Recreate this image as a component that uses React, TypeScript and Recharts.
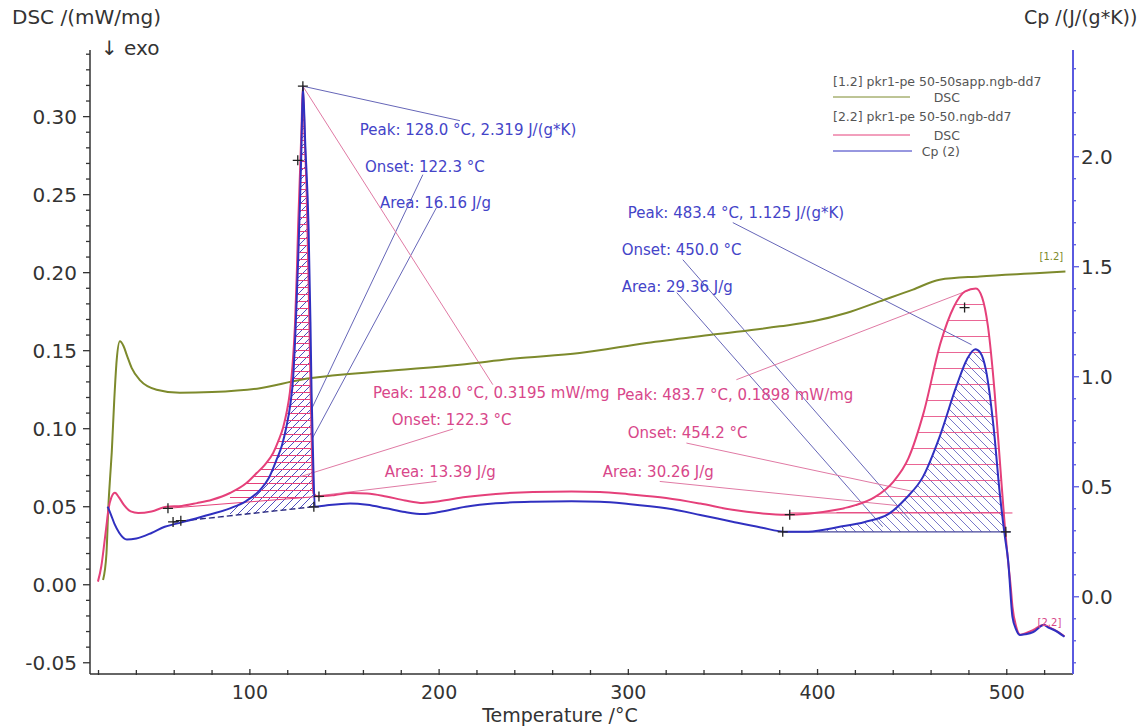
import React from "react";
import {
  ComposedChart,
  Line,
  Area,
  XAxis,
  YAxis,
  ReferenceLine,
  ReferenceDot,
} from "recharts";

const W = 1140;
const H = 727;
const FONT = '"DejaVu Sans", Verdana, sans-serif';

// colours
const OLIVE = "#7d8a2c";
const PINK = "#e5407a";
const BLUE = "#3030c0";
const BLUE_TXT = "#4444c8";
const PINK_TXT = "#d8478a";

// [°C, mW/mg]  -- [1.2] pkr1-pe 50-50sapp.ngb-dd7, DSC
const dsc12: [number, number][] = [
  [22.4, 0.003], [24.2, 0.02], [25.2, 0.05], [26.2, 0.07], [27.0, 0.085],
  [28.3, 0.118], [29.6, 0.144], [31.3, 0.156], [33.2, 0.153], [35.0, 0.147],
  [37.5, 0.139], [42.0, 0.131], [50.7, 0.125], [63.0, 0.123], [80.0, 0.1235],
  [105.3, 0.126], [126.9, 0.1314], [168.7, 0.1367], [211.0, 0.141], [240.0, 0.145],
  [274.3, 0.1485], [309.6, 0.1549], [344.8, 0.1603], [380.0, 0.1656], [397.6, 0.1688],
  [415.2, 0.1741], [432.8, 0.1816], [450.4, 0.1891], [464.5, 0.1955], [485.7, 0.1976],
  [517.4, 0.1998], [531.0, 0.2008],
];

// [°C, mW/mg]  -- [2.2] pkr1-pe 50-50.ngb-dd7, DSC
const dsc22: [number, number][] = [
  [19.7, 0.002], [21.5, 0.012], [23.2, 0.028], [24.4, 0.04], [25.2, 0.048],
  [26.8, 0.056], [28.7, 0.059], [30.8, 0.056], [33.5, 0.051], [37.0, 0.047],
  [41.0, 0.046], [48.0, 0.047], [56.0, 0.05], [64.0, 0.0505], [72.0, 0.0523],
  [80.0, 0.0545], [89.5, 0.0588], [98.0, 0.065], [103.6, 0.0716], [108.0, 0.077],
  [112.3, 0.0844], [115.0, 0.092], [117.6, 0.101], [119.5, 0.111], [121.1, 0.123],
  [122.5, 0.14], [123.8, 0.166], [124.8, 0.2], [125.5, 0.23], [126.5, 0.265],
  [127.3, 0.294], [128.0, 0.3195], [129.0, 0.285], [130.0, 0.251], [131.0, 0.195],
  [131.8, 0.144], [132.6, 0.095], [133.5, 0.0588], [136.0, 0.0566], [145.0, 0.0575],
  [153.0, 0.0588], [162.0, 0.0585], [172.0, 0.0566], [182.0, 0.054], [191.4, 0.0524],
  [200.0, 0.0535], [214.0, 0.0562], [230.0, 0.0582], [249.6, 0.0594], [270.0, 0.0597],
  [285.0, 0.0594], [300.0, 0.058], [320.0, 0.0556], [338.0, 0.052], [355.0, 0.048],
  [370.0, 0.0458], [383.5, 0.0449], [395.0, 0.0455], [410.0, 0.048], [420.0, 0.051],
  [430.0, 0.056], [440.0, 0.066], [448.0, 0.081], [456.0, 0.11], [465.0, 0.155],
  [472.0, 0.178], [478.0, 0.188], [483.7, 0.1898], [487.0, 0.184], [490.0, 0.166],
  [493.6, 0.123], [496.3, 0.08], [499.0, 0.037], [500.6, 0.016], [502.0, 0.0],
  [503.0, -0.014], [505.0, -0.027], [507.0, -0.032], [510.0, -0.031], [514.0, -0.029],
  [519.6, -0.0256], [522.0, -0.027], [525.0, -0.0288], [530.5, -0.033],
];

// [°C, J/(g*K)]  -- Cp (2)
const cp2: [number, number][] = [
  [24.8, 0.41], [26.5, 0.375], [28.5, 0.33], [31.0, 0.29], [35.0, 0.26],
  [40.0, 0.265], [48.0, 0.29], [55.0, 0.318], [63.0, 0.336], [75.0, 0.365],
  [89.5, 0.402], [98.0, 0.435], [105.3, 0.485], [110.0, 0.54], [114.0, 0.621],
  [117.0, 0.69], [119.3, 0.773], [121.3, 0.87], [122.9, 1.0], [124.3, 1.25],
  [125.5, 1.53], [126.5, 1.8], [127.3, 2.06], [128.0, 2.319], [129.3, 2.05],
  [131.0, 1.68], [132.0, 1.25], [132.6, 0.925], [133.5, 0.6], [134.3, 0.409],
  [140.0, 0.415], [153.0, 0.424], [162.0, 0.418], [172.0, 0.402], [182.0, 0.385],
  [191.4, 0.376], [200.0, 0.385], [214.0, 0.409], [230.0, 0.425], [249.6, 0.432],
  [270.0, 0.434], [285.0, 0.432], [300.0, 0.422], [320.0, 0.402], [338.0, 0.372],
  [355.0, 0.341], [370.0, 0.315], [383.5, 0.295], [395.0, 0.296], [411.7, 0.318],
  [425.0, 0.34], [438.0, 0.379], [447.0, 0.45], [455.7, 0.545], [464.5, 0.727],
  [473.3, 0.955], [479.0, 1.08], [483.4, 1.125], [486.0, 1.11], [489.0, 1.03],
  [493.0, 0.773], [496.3, 0.47], [499.0, 0.273], [500.7, 0.167], [503.0, -0.091],
  [505.0, -0.15], [507.0, -0.174], [510.0, -0.17], [514.0, -0.16], [519.6, -0.128],
  [522.0, -0.14], [525.0, -0.151], [530.5, -0.182],
];

// integration baselines [°C, lower bound] read along each peak
const pinkBase1: [number, number][] = [
  [89.5, 0.0521], [98.0, 0.0529], [103.6, 0.0535], [108.0, 0.0539], [112.3, 0.0543],
  [115.0, 0.0546], [117.6, 0.0548], [119.5, 0.055], [121.1, 0.0551], [122.5, 0.0553],
  [123.8, 0.0554], [124.8, 0.0555], [125.5, 0.0556], [126.5, 0.0556], [127.3, 0.0557],
  [128.0, 0.0558], [129.0, 0.0559], [130.0, 0.056], [131.0, 0.0561], [131.8, 0.0562],
  [132.6, 0.0562], [133.5, 0.0563],
];
const cpBase1: [number, number][] = [
  [89.5, 0.368], [98.0, 0.376], [105.3, 0.383], [110.0, 0.387], [114.0, 0.391],
  [117.0, 0.394], [119.3, 0.396], [121.3, 0.398], [122.9, 0.399], [124.3, 0.4],
  [125.5, 0.402], [126.5, 0.402], [127.3, 0.403], [128.0, 0.404], [129.3, 0.405],
  [131.0, 0.407], [132.0, 0.408], [132.6, 0.408], [133.5, 0.409], [134.3, 0.41],
];
const pinkBase2: [number, number][] = [
  [410.0, 0.046], [420.0, 0.046], [430.0, 0.046], [440.0, 0.046], [448.0, 0.046],
  [456.0, 0.046], [465.0, 0.046], [472.0, 0.046], [478.0, 0.046], [483.7, 0.046],
  [487.0, 0.046], [490.0, 0.046], [493.6, 0.046], [496.3, 0.046], [499.0, 0.046],
];
const cpBase2: [number, number][] = [
  [395.0, 0.295], [411.7, 0.295], [425.0, 0.295], [438.0, 0.295], [447.0, 0.295],
  [455.7, 0.295], [464.5, 0.295], [473.3, 0.295], [479.0, 0.295], [483.4, 0.295],
  [486.0, 0.295], [489.0, 0.295], [493.0, 0.295], [496.3, 0.295], [499.0, 0.295],
];

// axis ticks
const xTicks = [20, 40, 60, 80, 100, 120, 140, 160, 180, 200, 220, 240, 260, 280, 300,
  320, 340, 360, 380, 400, 420, 440, 460, 480, 500, 520];
const xMajor = [100, 200, 300, 400, 500];
const leftTicks = [-0.05, -0.04, -0.03, -0.02, -0.01, 0, 0.01, 0.02, 0.03, 0.04, 0.05,
  0.06, 0.07, 0.08, 0.09, 0.1, 0.11, 0.12, 0.13, 0.14, 0.15, 0.16, 0.17, 0.18, 0.19,
  0.2, 0.21, 0.22, 0.23, 0.24, 0.25, 0.26, 0.27, 0.28, 0.29, 0.3, 0.31, 0.32, 0.33, 0.34];
const leftMajor = [-0.05, 0, 0.05, 0.1, 0.15, 0.2, 0.25, 0.3];
const rightTicks = [-0.3, -0.2, -0.1, 0, 0.1, 0.2, 0.3, 0.4, 0.5, 0.6, 0.7, 0.8, 0.9, 1.0,
  1.1, 1.2, 1.3, 1.4, 1.5, 1.6, 1.7, 1.8, 1.9, 2.0, 2.1, 2.2, 2.3, 2.4];
const rightMajor = [0, 0.5, 1.0, 1.5, 2.0];

// annotation texts: [text, °C, mW/mg]
const blueNotes: [string, number, number][] = [
  ["Peak: 128.0 °C, 2.319 J/(g*K)", 158.1, 0.2885],
  ["Onset: 122.3 °C", 160.8, 0.2647],
  ["Area: 16.16 J/g", 168.7, 0.2417],
  ["Peak: 483.4 °C, 1.125 J/(g*K)", 299.7, 0.2353],
  ["Onset: 450.0 °C", 296.5, 0.2115],
  ["Area: 29.36 J/g", 296.5, 0.1878],
];
const pinkNotes: [string, number, number][] = [
  ["Peak: 128.0 °C, 0.3195 mW/mg", 165.0, 0.1199],
  ["Peak: 483.7 °C, 0.1898 mW/mg", 293.9, 0.1186],
  ["Onset: 122.3 °C", 175.0, 0.1026],
  ["Onset: 454.2 °C", 299.7, 0.0942],
  ["Area: 13.39 J/g", 171.3, 0.0692],
  ["Area: 30.26 J/g", 286.5, 0.0692],
];
// leader lines [t1, v1, t2, v2] in °C / mW/mg
const blueLeaders: [number, number, number, number][] = [
  [128.0, 0.3195, 211.0, 0.2974],
  [191.4, 0.2628, 131.7, 0.1103],
  [198.6, 0.2417, 132.6, 0.0929],
  [355.2, 0.2321, 481.4, 0.1538],
  [328.8, 0.2083, 448.7, 0.0417],
  [325.6, 0.1872, 434.4, 0.0372],
];
const pinkLeaders: [number, number, number, number][] = [
  [128.0, 0.3195, 228.4, 0.1282],
  [207.3, 0.0998, 126.4, 0.0692],
  [198.6, 0.0662, 133.3, 0.0566],
  [357.1, 0.1314, 481.9, 0.1897],
  [330.7, 0.0908, 450.3, 0.0598],
  [316.6, 0.0662, 443.4, 0.0506],
];
const dscMarks: [number, number][] = [
  [128.0, 0.3195], [125.3, 0.272], [56.7, 0.049], [136.5, 0.0566], [385.3, 0.0449], [477.7, 0.1776],
];
const cpMarks: [number, number][] = [
  [59.4, 0.34], [63.5, 0.346], [133.8, 0.409], [381.6, 0.295], [499.5, 0.295],
];

const rows = (arr: [number, number][]) => arr.map(([t, v]) => ({ t, v }));
const hatchRows = (base: [number, number][], curve: [number, number][]) =>
  base.map(([t, lo]) => ({ t, r: [lo, (curve.find((p) => p[0] === t) as [number, number])[1]] }));

const near = (list: number[], v: number) => list.some((m) => Math.abs(m - v) < 1e-6);

function XTick(props: any) {
  const { x, y, payload } = props;
  const major = near(xMajor, payload.value);
  return (
    <g>
      <line x1={x} x2={x} y1={y - (major ? 5 : 4)} y2={y + 1} stroke="#333" strokeWidth={1.3} />
      {major && (
        <text x={x} y={y + 25} textAnchor="middle" fontFamily={FONT} fontSize={19} fill="#333">
          {payload.value}
        </text>
      )}
    </g>
  );
}

function LeftTick(props: any) {
  const { x, y, payload } = props;
  const major = near(leftMajor, payload.value);
  return (
    <g>
      <line x1={x - (major ? 7 : 4)} x2={x} y1={y} y2={y} stroke="#333" strokeWidth={1.3} />
      {major && (
        <text x={x - 13} y={y + 7} textAnchor="end" fontFamily={FONT} fontSize={20} fill="#333">
          {payload.value.toFixed(2)}
        </text>
      )}
    </g>
  );
}

function RightTick(props: any) {
  const { x, y, payload } = props;
  const major = near(rightMajor, payload.value);
  return (
    <g>
      <line x1={x} x2={x + (major ? 6 : 3)} y1={y} y2={y} stroke="#5a5ae0" strokeWidth={1.3} />
      {major && (
        <text x={x + 8} y={y + 7} textAnchor="start" fontFamily={FONT} fontSize={20} fill="#333">
          {payload.value.toFixed(1)}
        </text>
      )}
    </g>
  );
}

const noteShape = (text: string, color: string, size: number) => (p: any) => (
  <text x={p.cx} y={p.cy} fontFamily={FONT} fontSize={size} fill={color}>
    {text}
  </text>
);

const crossShape = (p: any) => (
  <path
    d={`M${p.cx - 5},${p.cy}h10M${p.cx},${p.cy - 5}v10`}
    stroke="#222"
    strokeWidth={1.3}
    fill="none"
  />
);

export default function App() {
  return (
    <div style={{ position: "absolute", left: 0, top: 0, width: W, height: H, background: "#fff" }}>
      <ComposedChart width={W} height={H} margin={{ top: 50, right: 0, bottom: 0, left: 0 }}>
        <defs>
          <pattern id="hPinkFine" patternUnits="userSpaceOnUse" width="8" height="7">
            <line x1="0" y1="0.5" x2="8" y2="0.5" stroke={PINK} strokeWidth="1" />
          </pattern>
          <pattern id="hPinkWide" patternUnits="userSpaceOnUse" width="8" height="16">
            <line x1="0" y1="0.5" x2="8" y2="0.5" stroke={PINK} strokeWidth="1" strokeOpacity="0.8" />
          </pattern>
          <pattern id="dBlueUp" patternUnits="userSpaceOnUse" width="8" height="8">
            <path d="M-2,2 l4,-4 M0,8 l8,-8 M6,10 l4,-4" stroke="#5050c0" strokeWidth="1" />
          </pattern>
          <pattern id="dBlueDown" patternUnits="userSpaceOnUse" width="9" height="9">
            <path d="M-2,7 l4,4 M0,0 l9,9 M7,-2 l4,4" stroke="#6060c0" strokeWidth="1" strokeOpacity="0.85" />
          </pattern>
        </defs>

        <XAxis
          dataKey="t"
          type="number"
          domain={[15.5, 535]}
          allowDataOverflow
          ticks={xTicks}
          interval={0}
          tick={XTick}
          tickSize={0}
          tickMargin={0}
          tickLine={false}
          height={53}
          axisLine={{ stroke: "#333", strokeWidth: 1.5 }}
        />
        <YAxis
          yAxisId="dsc"
          orientation="left"
          width={90}
          domain={[-0.0572, 0.3427]}
          allowDataOverflow
          ticks={leftTicks}
          interval={0}
          tick={LeftTick}
          tickSize={0}
          tickMargin={0}
          tickLine={false}
          axisLine={{ stroke: "#333", strokeWidth: 1.5 }}
        />
        <YAxis
          yAxisId="cp"
          orientation="right"
          width={67}
          domain={[-0.351, 2.485]}
          allowDataOverflow
          ticks={rightTicks}
          interval={0}
          tick={RightTick}
          tickSize={0}
          tickMargin={0}
          tickLine={false}
          axisLine={{ stroke: "#5a5ae0", strokeWidth: 2 }}
        />

        {/* hatched peak areas */}
        <Area yAxisId="cp" data={hatchRows(cpBase1, cp2)} dataKey="r" type="monotone"
          stroke="none" fill="url(#dBlueUp)" fillOpacity={1} isAnimationActive={false} />
        <Area yAxisId="dsc" data={hatchRows(pinkBase1, dsc22)} dataKey="r" type="monotone"
          stroke="none" fill="url(#hPinkFine)" fillOpacity={1} isAnimationActive={false} />
        <Area yAxisId="cp" data={hatchRows(cpBase2, cp2)} dataKey="r" type="monotone"
          stroke="none" fill="url(#dBlueDown)" fillOpacity={1} isAnimationActive={false} />
        <Area yAxisId="dsc" data={hatchRows(pinkBase2, dsc22)} dataKey="r" type="monotone"
          stroke="none" fill="url(#hPinkWide)" fillOpacity={1} isAnimationActive={false} />

        {/* baselines */}
        <ReferenceLine yAxisId="cp" segment={[{ x: 59.4, y: 0.34 }, { x: 133.5, y: 0.409 }]}
          stroke="#2a2a80" strokeWidth={1.4} strokeDasharray="6 3" />
        <ReferenceLine yAxisId="dsc" segment={[{ x: 56.7, y: 0.049 }, { x: 136.5, y: 0.0566 }]}
          stroke={PINK} strokeWidth={1} />
        <ReferenceLine yAxisId="cp" segment={[{ x: 381.6, y: 0.295 }, { x: 502, y: 0.295 }]}
          stroke="#44449a" strokeWidth={1.2} />
        <ReferenceLine yAxisId="dsc" segment={[{ x: 385, y: 0.046 }, { x: 503, y: 0.046 }]}
          stroke={PINK} strokeWidth={1} />

        {/* leader lines */}
        {blueLeaders.map(([t1, v1, t2, v2], i) => (
          <ReferenceLine key={`bl${i}`} yAxisId="dsc" segment={[{ x: t1, y: v1 }, { x: t2, y: v2 }]}
            stroke="#6666b8" strokeWidth={1} />
        ))}
        {pinkLeaders.map(([t1, v1, t2, v2], i) => (
          <ReferenceLine key={`pl${i}`} yAxisId="dsc" segment={[{ x: t1, y: v1 }, { x: t2, y: v2 }]}
            stroke="#e07aa4" strokeWidth={1} />
        ))}

        {/* curves */}
        <Line yAxisId="dsc" data={rows(dsc12)} dataKey="v" type="monotone" stroke={OLIVE}
          strokeWidth={2} dot={false} isAnimationActive={false} />
        <Line yAxisId="dsc" data={rows(dsc22)} dataKey="v" type="monotone" stroke={PINK}
          strokeWidth={2} dot={false} isAnimationActive={false} />
        <Line yAxisId="cp" data={rows(cp2)} dataKey="v" type="monotone" stroke={BLUE}
          strokeWidth={2} dot={false} isAnimationActive={false} />

        {/* markers */}
        {dscMarks.map(([t, v], i) => (
          <ReferenceDot key={`dm${i}`} yAxisId="dsc" x={t} y={v} r={0} shape={crossShape} />
        ))}
        {cpMarks.map(([t, v], i) => (
          <ReferenceDot key={`cm${i}`} yAxisId="cp" x={t} y={v} r={0} shape={crossShape} />
        ))}

        {/* texts */}
        {blueNotes.map(([txt, t, v], i) => (
          <ReferenceDot key={`bn${i}`} yAxisId="dsc" x={t} y={v} r={0} shape={noteShape(txt, BLUE_TXT, 15)} />
        ))}
        {pinkNotes.map(([txt, t, v], i) => (
          <ReferenceDot key={`pn${i}`} yAxisId="dsc" x={t} y={v} r={0} shape={noteShape(txt, PINK_TXT, 15)} />
        ))}
        <ReferenceDot yAxisId="dsc" x={517.3} y={0.2083} r={0} shape={noteShape("[1.2]", OLIVE, 10)} />
        <ReferenceDot yAxisId="dsc" x={516.3} y={-0.0263} r={0} shape={noteShape("[2.2]", PINK_TXT, 10)} />
      </ComposedChart>

      {/* titles and legend */}
      <svg width={W} height={H} style={{ position: "absolute", left: 0, top: 0, pointerEvents: "none" }}>
        <g fontFamily={FONT} fill="#333">
          <text x={12} y={23.5} fontSize={20}>DSC /(mW/mg)</text>
          <text x={101} y={55} fontSize={20}>↓ exo</text>
          <text x={1024} y={23.5} fontSize={19}>Cp /(J/(g*K))</text>
          <text x={560} y={722} fontSize={19} textAnchor="middle">Temperature /°C</text>
        </g>
        <g fontFamily={FONT} fontSize={12.5} fill="#555">
          <text x={833} y={86}>[1.2] pkr1-pe 50-50sapp.ngb-dd7</text>
          <line x1={833} x2={910} y1={97} y2={97} stroke={OLIVE} strokeWidth={1} />
          <text x={960} y={101.5} textAnchor="end">DSC</text>
          <text x={833} y={121}>[2.2] pkr1-pe 50-50.ngb-dd7</text>
          <line x1={833} x2={910} y1={135} y2={135} stroke={PINK} strokeWidth={1} />
          <text x={960} y={139.5} textAnchor="end">DSC</text>
          <line x1={833} x2={912} y1={151} y2={151} stroke={BLUE} strokeWidth={1} />
          <text x={960} y={155.5} textAnchor="end">Cp (2)</text>
        </g>
      </svg>
    </div>
  );
}
